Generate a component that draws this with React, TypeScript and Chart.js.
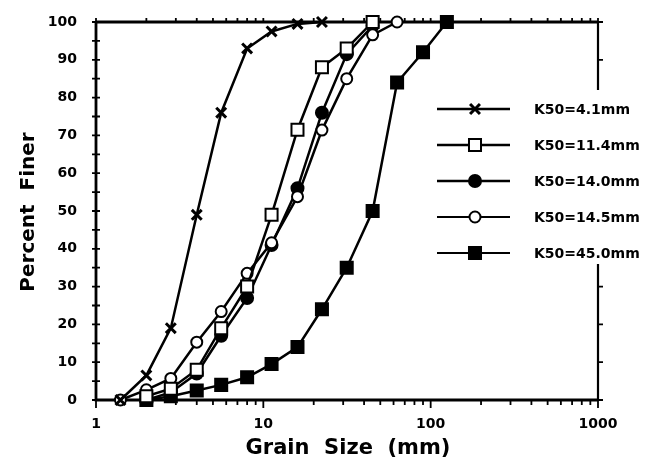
import React, { useEffect, useRef } from 'react';
import { Chart, registerables } from 'chart.js';

Chart.register(...registerables);

// Sieve sizes (mm) – x values
const sieveSizes = [1.4, 2, 2.8, 4, 5.6, 8, 11.2, 16, 22.4, 31.5, 45, 63, 90, 125];
// Percent finer per series (null = no sample)
const k41 = [0, 6.5, 19, 49, 76, 93, 97.5, 99.5, 100];
const k114 = [null, 1, 3, 8, 19, 30, 49, 71.5, 88, 93, 100];
const k140 = [null, 0, 2, 7, 17, 27, 41, 56, 76, 91.5, 99];
const k145 = [0, 2.7, 5.7, 15.3, 23.4, 33.5, 41.6, 53.8, 71.4, 85, 96.6, 100];
const k450 = [null, 0, 1, 2.5, 4, 6, 9.5, 14, 24, 35, 50, 84, 92, 100];

const seriesLabels = ['K50=4.1mm', 'K50=11.4mm', 'K50=14.0mm', 'K50=14.5mm', 'K50=45.0mm'];
const xTickLabels = [1, 10, 100, 1000];
const yTickStep = 10;
const xTitle = 'Grain  Size  (mm)';
const yTitle = 'Percent  Finer';

const FONT = '"DejaVu Sans", "Liberation Sans", sans-serif';

function toPoints(vals: (number | null)[]) {
  const pts: { x: number; y: number }[] = [];
  vals.forEach((v, i) => {
    if (v !== null && v !== undefined) pts.push({ x: sieveSizes[i], y: v });
  });
  return pts;
}

type Marker = { style: string; radius: number; fill: string; lw: number };
const markers: Marker[] = [
  { style: 'crossRot', radius: 7, fill: '#000', lw: 3 },
  { style: 'rect', radius: 8.5, fill: '#fff', lw: 2 },
  { style: 'circle', radius: 6, fill: '#000', lw: 2 },
  { style: 'circle', radius: 5.5, fill: '#fff', lw: 2 },
  { style: 'rect', radius: 8.5, fill: '#000', lw: 2 },
];

function drawMarker(ctx: CanvasRenderingContext2D, m: Marker, x: number, y: number) {
  ctx.save();
  ctx.strokeStyle = '#000';
  ctx.fillStyle = m.fill;
  ctx.lineWidth = m.lw;
  ctx.beginPath();
  if (m.style === 'crossRot') {
    const s = Math.SQRT1_2 * m.radius;
    ctx.moveTo(x - s, y - s);
    ctx.lineTo(x + s, y + s);
    ctx.moveTo(x - s, y + s);
    ctx.lineTo(x + s, y - s);
    ctx.stroke();
  } else if (m.style === 'rect') {
    const s = Math.SQRT1_2 * m.radius;
    ctx.rect(x - s, y - s, 2 * s, 2 * s);
    ctx.fill();
    ctx.stroke();
  } else {
    ctx.arc(x, y, m.radius, 0, Math.PI * 2);
    ctx.fill();
    ctx.stroke();
  }
  ctx.restore();
}

const framePlugin = {
  id: 'frame',
  beforeDatasetsDraw(chart: any) {
    const { ctx, chartArea, scales } = chart;
    const xs = scales.x;
    const ys = scales.y;
    const { left, right, top, bottom } = chartArea;
    ctx.save();
    ctx.strokeStyle = '#000';
    ctx.lineWidth = 2.8;
    ctx.beginPath();
    ctx.moveTo(left, top);
    ctx.lineTo(left, bottom);
    ctx.lineTo(right, bottom);
    ctx.moveTo(left, top);
    ctx.lineTo(right, top);
    ctx.stroke();
    // right axis (broken in the middle behind the legend, as in the scan)
    ctx.lineWidth = 2.2;
    ctx.beginPath();
    ctx.moveTo(right, top);
    ctx.lineTo(right, ys.getPixelForValue(82));
    ctx.moveTo(right, ys.getPixelForValue(36));
    ctx.lineTo(right, bottom);
    ctx.stroke();
    ctx.lineWidth = 1.8;
    ctx.beginPath();
    for (let v = 0; v <= 100; v += 5) {
      const py = ys.getPixelForValue(v);
      ctx.moveTo(left - 4, py);
      ctx.lineTo(left + 4, py);
      if (v % 10 === 0 && (v >= 90 || v <= 30)) {
        ctx.moveTo(right, py);
        ctx.lineTo(right + 5, py);
      }
    }
    for (let d = 1; d <= 100; d *= 10) {
      for (let k = 1; k <= 10; k++) {
        const v = d * k;
        const px = xs.getPixelForValue(v);
        const major = k === 1 || k === 10;
        ctx.moveTo(px, bottom);
        ctx.lineTo(px, bottom + (major ? 8 : 5));
        ctx.moveTo(px, top);
        ctx.lineTo(px, top - 4);
      }
    }
    ctx.stroke();
    ctx.restore();
  },
  afterDraw(chart: any) {
    const { ctx } = chart;
    ctx.save();
    ctx.fillStyle = '#000';
    ctx.font = `bold 21px ${FONT}`;
    ctx.textAlign = 'center';
    ctx.textBaseline = 'middle';
    ctx.fillText(xTitle, 348, 449);
    ctx.save();
    ctx.font = `bold 20px ${FONT}`;
    ctx.translate(29, 212);
    ctx.rotate(-Math.PI / 2);
    ctx.fillText(yTitle, 0, 0);
    ctx.restore();
    const ds = chart.data.datasets;
    ctx.font = `bold 14px ${FONT}`;
    ctx.textAlign = 'left';
    ds.forEach((d: any, i: number) => {
      const y = 109 + i * 36;
      ctx.strokeStyle = '#000';
      ctx.lineWidth = i < 3 ? 2.5 : 1.8;
      ctx.beginPath();
      ctx.moveTo(437, y);
      ctx.lineTo(510, y);
      ctx.stroke();
      drawMarker(ctx, markers[i], 475, y);
      ctx.fillStyle = '#000';
      ctx.fillText(d.label, 534, y + 1);
    });
    ctx.restore();
  },
};

const seriesValues = [k41, k114, k140, k145, k450];
const drawOrder = [1, 2, 4, 3, 5];

export default function App() {
  const ref = useRef<HTMLCanvasElement | null>(null);
  useEffect(() => {
    if (!ref.current) return;
    Chart.defaults.font.family = FONT;
    Chart.defaults.color = '#000';
    const chart = new Chart(ref.current, {
      type: 'line',
      data: {
        datasets: seriesValues.map((vals, i) => ({
          label: seriesLabels[i],
          data: toPoints(vals),
          borderColor: '#000',
          borderWidth: 2.5,
          backgroundColor: markers[i].fill,
          pointStyle: markers[i].style as any,
          pointRadius: markers[i].radius,
          pointBorderWidth: markers[i].lw,
          pointBorderColor: '#000',
          pointBackgroundColor: markers[i].fill,
          pointHoverRadius: markers[i].radius,
          tension: 0,
          clip: false as any,
          order: drawOrder[i],
        })),
      },
      options: {
        animation: false,
        responsive: false,
        events: [],
        layout: { padding: { top: 22, right: 49, left: 0, bottom: 0 } },
        plugins: { legend: { display: false }, tooltip: { enabled: false }, title: { display: false } },
        scales: {
          x: {
            type: 'logarithmic',
            min: 1,
            max: 1000,
            grid: { display: false },
            border: { display: false },
            ticks: {
              autoSkip: false,
              maxRotation: 0,
              padding: 8,
              font: { size: 14, weight: 'bold' },
              callback: (v: any) => (xTickLabels.includes(Number(v)) ? String(v) : ''),
            },
            afterFit: (s: any) => {
              s.height = 66;
            },
          },
          y: {
            type: 'linear',
            min: 0,
            max: 100,
            grid: { display: false },
            border: { display: false },
            ticks: { stepSize: yTickStep, padding: 11, font: { size: 14, weight: 'bold' } },
            afterFit: (s: any) => {
              s.width = 96;
            },
          },
        },
      } as any,
      plugins: [framePlugin],
    });
    return () => chart.destroy();
  }, []);
  return (
    <div style={{ position: 'absolute', left: 0, top: 0, width: 647, height: 466, background: '#fff' }}>
      <canvas ref={ref} width={647} height={466} style={{ display: 'block' }} />
    </div>
  );
}
